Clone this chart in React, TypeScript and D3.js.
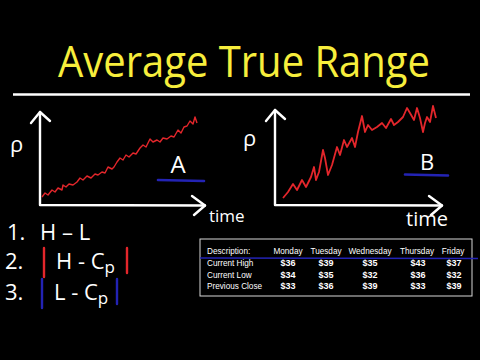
import React from "react";
import * as d3 from "d3";

const TITLE = "Average True Range";

// Chart A – steady uptrend with small swings (time, price)
const timeA = [2,5,8,12,15,18,22,23,26,29,33,37,40,43,47,51,55,58,62,65,68,72,74,77,80,83,86,89,93,96,100,103,106,110,113,117,120,123,127,131,134,138,141,144,147,150,153,155,157];
const priceA = [8,12,10,15,13,17,15,20,18,21,20,23,27,25,29,27,31,30,33,32,38,36,38,43,47,45,50,48,52,51,57,60,58,66,63,65,63,67,66,69,68,75,72,78,79,84,81,88,82];

// Chart B – uptrend with large swings (time, price)
const timeB = [8,13,18,22,27,31,36,39,41,44,48,50,53,57,62,65,69,72,77,80,83,87,90,93,97,102,107,111,116,119,123,128,132,135,139,142,145,148,150,152,155,158,161];
const priceB = [7,13,21,15,25,18,28,38,25,33,55,47,30,40,58,50,65,58,67,58,73,89,73,80,75,78,82,77,86,80,83,88,97,92,85,97,87,73,82,88,83,99,87];

const chartLabels = ["A", "B"];
const axisLabelY = "ρ";
const axisLabelX = "time";

// Table
const tableHeader = ["Description:", "Monday", "Tuesday", "Wednesday", "Thursday", "Friday"];
const rowLabels = ["Current High", "Current Low", "Previous Close"];
const currentHigh = [36, 39, 35, 43, 37];
const currentLow = [34, 35, 32, 36, 32];
const previousClose = [33, 36, 39, 33, 39];

// Formula list
const listNumbers = ["1.", "2.", "3."];
const listMain = ["H – L", "H - C", "L - C"];
const listSub = ["", "p", "p"];

const RED = "#e3262b";
const BLUE = "#2323b4";
const WHITE = "#ffffff";
const YELLOW = "#f7ee3c";
const HAND = "'Open Sans', 'Noto Sans', sans-serif";

type ChartProps = {
  times: number[];
  prices: number[];
  xRange: [number, number];
  yRange: [number, number];
  xMax: number;
  yMax: number;
  lineWidth: number;
  label: string;
  labelPos: [number, number];
  labelSize: number;
  bluePos: [number, number, number];
  rhoPos: [number, number];
  timePos: [number, number];
  timeSize: number;
};

function MiniChart(p: ChartProps) {
  const x = d3.scaleLinear().domain([0, p.xMax]).range(p.xRange);
  const y = d3.scaleLinear().domain([0, p.yMax]).range(p.yRange);
  const data = p.times.map((t, i) => [t, p.prices[i]] as [number, number]);
  const line = d3
    .line<[number, number]>()
    .x((d) => x(d[0]))
    .y((d) => y(d[1]));
  const x0 = x(0);
  const y0 = y(0);
  const xEnd = x(p.xMax);
  const yTop = y(p.yMax);
  return (
    <g>
      {/* axes */}
      <path
        d={`M${x0},${yTop} L${x0},${y0} L${xEnd},${y0 + 0.5}`}
        fill="none"
        stroke={WHITE}
        strokeWidth={2.4}
        strokeLinecap="round"
        strokeLinejoin="round"
      />
      <path
        d={`M${x0 - 9},${yTop + 11} L${x0},${yTop} L${x0 + 10},${yTop + 9}`}
        fill="none"
        stroke={WHITE}
        strokeWidth={2.4}
        strokeLinecap="round"
        strokeLinejoin="round"
      />
      <path
        d={`M${xEnd - 13},${y0 - 9} L${xEnd},${y0 + 0.5} L${xEnd - 11},${y0 + 10}`}
        fill="none"
        stroke={WHITE}
        strokeWidth={2.4}
        strokeLinecap="round"
        strokeLinejoin="round"
      />
      <path d={line(data) || ""} fill="none" stroke={RED} strokeWidth={p.lineWidth} strokeLinejoin="round" />
      <text x={p.rhoPos[0]} y={p.rhoPos[1]} fill={WHITE} fontFamily={HAND} fontSize={22}>
        {axisLabelY}
      </text>
      <text x={p.timePos[0]} y={p.timePos[1]} fill={WHITE} fontFamily={HAND} fontSize={p.timeSize}>
        {axisLabelX}
      </text>
      <text
        x={p.labelPos[0]}
        y={p.labelPos[1]}
        fill={WHITE}
        fontFamily={HAND}
        fontSize={p.labelSize}
        textAnchor="middle"
      >
        {p.label}
      </text>
      <line
        x1={p.bluePos[0]}
        x2={p.bluePos[1]}
        y1={p.bluePos[2]}
        y2={p.bluePos[2] + 1}
        stroke={BLUE}
        strokeWidth={2.6}
        strokeLinecap="round"
      />
    </g>
  );
}

export default function App() {
  const valueRows = [currentHigh, currentLow, previousClose];
  const colX = [288, 326, 370, 418, 454];
  const rowY = [266, 277.5, 289];
  const listY = [240, 269, 300];
  const listNumX = [7, 5, 5];
  const listTextX = [40, 56, 54];
  const barX = [null, [44, 127], [42, 117]] as (number[] | null)[];
  const barColor = [null, RED, BLUE];

  return (
    <svg
      width={480}
      height={360}
      style={{ position: "fixed", left: 0, top: 0, background: "#000" }}
    >
      <rect x={0} y={0} width={480} height={360} fill="#000" />
      {/* Title */}
      <text
        x={58}
        y={77}
        fill={YELLOW}
        fontFamily={HAND}
        fontSize={44}
        textLength={372}
        lengthAdjust="spacingAndGlyphs"
      >
        {TITLE}
      </text>
      <line x1={13} x2={470} y1={94.5} y2={94.5} stroke={WHITE} strokeWidth={2.5} />

      <MiniChart
        times={timeA}
        prices={priceA}
        xRange={[40, 205]}
        yRange={[205, 112]}
        xMax={165}
        yMax={93}
        lineWidth={1.4}
        label={chartLabels[0]}
        labelPos={[178, 173]}
        labelSize={24}
        bluePos={[158, 204, 180]}
        rhoPos={[10, 152]}
        timePos={[209, 222]}
        timeSize={17}
      />
      <MiniChart
        times={timeB}
        prices={priceB}
        xRange={[275, 442]}
        yRange={[205, 110]}
        xMax={167}
        yMax={95}
        lineWidth={1.8}
        label={chartLabels[1]}
        labelPos={[427, 170]}
        labelSize={22}
        bluePos={[405, 448, 174.5]}
        rhoPos={[243, 146]}
        timePos={[406, 226]}
        timeSize={20}
      />

      {/* Formula list */}
      {listNumbers.map((n, i) => (
        <g key={n}>
          <text x={listNumX[i]} y={listY[i]} fill={WHITE} fontFamily={HAND} fontSize={22}>
            {n}
          </text>
          <text x={listTextX[i]} y={listY[i]} fill={WHITE} fontFamily={HAND} fontSize={22}>
            {listMain[i]}
            {listSub[i] && (
              <tspan fontSize={17} dy={4}>
                {listSub[i]}
              </tspan>
            )}
          </text>
          {barX[i] &&
            (barX[i] as number[]).map((bx, j) => (
              <line
                key={j}
                x1={bx}
                x2={bx}
                y1={listY[i] - 21}
                y2={listY[i] + (j === 0 ? 8 : 4)}
                stroke={barColor[i] as string}
                strokeWidth={2.4}
                strokeLinecap="round"
              />
            ))}
        </g>
      ))}

      {/* Table */}
      <rect x={200} y={239} width={272} height={57} fill="#000" stroke="#d8d8d8" strokeWidth={1} />
      <line x1={200} x2={478} y1={258} y2={258.5} stroke={BLUE} strokeWidth={1.4} />
      {tableHeader.map((h, i) => (
        <text
          key={h}
          x={i === 0 ? 207 : [288, 326, 370, 417, 453][i - 1]}
          y={254}
          fill={WHITE}
          fontFamily="'Liberation Sans', Arial, sans-serif"
          fontSize={8.2}
          textAnchor={i === 0 ? "start" : "middle"}
        >
          {h}
        </text>
      ))}
      {rowLabels.map((r, ri) => (
        <g key={r}>
          <text
            x={207}
            y={rowY[ri]}
            fill={WHITE}
            fontFamily="'Liberation Sans', Arial, sans-serif"
            fontSize={8.2}
          >
            {r}
          </text>
          {valueRows[ri].map((v, ci) => (
            <text
              key={ci}
              x={colX[ci]}
              y={rowY[ri]}
              fill={WHITE}
              fontFamily="'Liberation Sans', Arial, sans-serif"
              fontSize={9}
              fontWeight="bold"
              textAnchor="middle"
            >
              {`$${v}`}
            </text>
          ))}
        </g>
      ))}
    </svg>
  );
}
